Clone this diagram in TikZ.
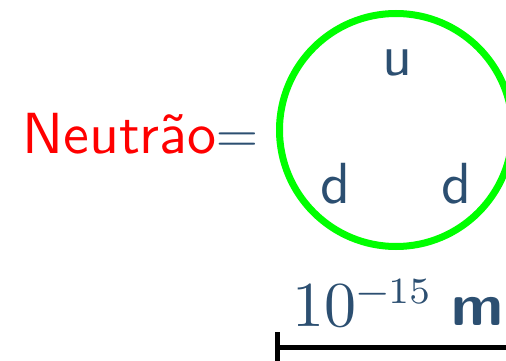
\RequirePackage{fix-cm}
\documentclass[tikz,border=0pt]{standalone}
\usepackage{fontspec}
\setsansfont{lmsans10-regular.otf}[BoldFont=lmsans10-bold.otf]
\newfontfamily\rmten{lmroman10-regular.otf}
\newfontfamily\rmseven{lmroman7-regular.otf}
\DeclareMathSizes{58}{58}{40}{30}
\definecolor{qblue}{RGB}{44,79,113}
\definecolor{ngreen}{RGB}{0,255,0}
\tikzset{
  big/.style={font=\fontsize{58}{58}\selectfont\sffamily, text=qblue, inner sep=0pt},
  quark/.style={big},
  bar/.style={line width=5pt, black}
}
\begin{document}
\begin{tikzpicture}[x=1pt,y=-1pt]
\useasboundingbox (0,0) rectangle (506,361);
\clip (0,0) rectangle (506,361);
\node[big, anchor=base west] (lbl) at (22,153) {\textcolor{red}{Neutrão}$=$};
\node[draw=ngreen, line width=7pt, circle, minimum size=233pt, inner sep=0pt] (n) at (396,130) {};
\node[quark, anchor=base] (u) at (397,76) {u};
\node[quark, anchor=base] (d1) at (335,203) {d};
\node[quark, anchor=base] (d2) at (456,203) {d};
\node[big, anchor=base west, font=\fontsize{64}{64}\rmten] (sc) at (292,326) {10\raisebox{23pt}{\fontsize{37}{37}\rmseven −15}};
\node[big, anchor=base west, font=\fontsize{60}{60}\selectfont\sffamily\bfseries] (unit) at (451,325) {m};
\coordinate (t1) at (277,332);
\coordinate (t2) at (277,365);
\coordinate (b1) at (277,347);
\coordinate (b2) at (520,347);
\draw[bar] (t1) -- (t2);
\draw[bar] (b1) -- (b2);
\end{tikzpicture}
\end{document}
